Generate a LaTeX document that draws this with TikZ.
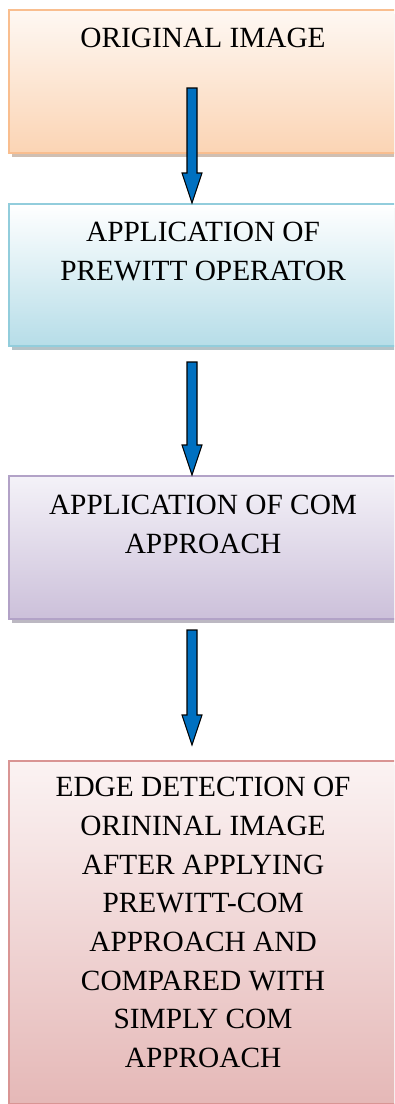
\documentclass[tikz,border=0pt]{standalone}
\usepackage{fontspec}
\setmainfont{Liberation Serif}
\usetikzlibrary{calc,shadows}

\definecolor{peachline}{HTML}{F9BE8F}
\definecolor{peachtop}{HTML}{FEF8F3}
\definecolor{peachbot}{HTML}{FBD4B4}
\definecolor{blueline}{HTML}{92CDDC}
\definecolor{bluetop}{HTML}{FFFFFF}
\definecolor{bluebot}{HTML}{B6DDE8}
\definecolor{lilacline}{HTML}{B2A2C7}
\definecolor{lilactop}{HTML}{F4F2F8}
\definecolor{lilacbot}{HTML}{CCC0DA}
\definecolor{roseline}{HTML}{D99594}
\definecolor{rosetop}{HTML}{FBF3F3}
\definecolor{rosebot}{HTML}{E5B8B7}
\definecolor{arrowblue}{HTML}{0070C0}

% fat down arrow from a start point to the top of the next box
\newcommand\blockarrow[2]{%
  \draw [arrowbody] let \p1=(#1), \p2=(#2) in
    (\x1-3.75pt,\y1) -- (\x1+3.75pt,\y1) -- (\x1+3.75pt,\y2+22.5pt)
    -- (\x1+7.5pt,\y2+22.5pt) -- (\x1,\y2) -- (\x1-7.5pt,\y2+22.5pt)
    -- (\x1-3.75pt,\y2+22.5pt) -- cycle;}

\begin{document}
\begin{tikzpicture}[x=0.75pt,y=-0.75pt,
    stage/.style n args={3}{rectangle, draw=#1, top color=#2, bottom color=#3,
      line width=1.6pt, minimum width=292.5pt, anchor=north west,
      drop shadow={shadow xshift=2pt, shadow yshift=-3pt, fill=#1!60!black, opacity=.45}},
    caption/.style={anchor=north, inner sep=0pt, align=center,
      font=\fontsize{22}{29}\selectfont},
    arrowbody/.style={draw=black, line width=0.8pt, fill=arrowblue, line join=miter}]
    \clip (0,0) rectangle (394,1104);

    % the four stages
    \node (b1) [stage={peachline}{peachtop}{peachbot}, minimum height=107.25pt] at (8,9) {};
    \node (b2) [stage={blueline}{bluetop}{bluebot}, minimum height=106.5pt] at (8,203) {};
    \node (b3) [stage={lilacline}{lilactop}{lilacbot}, minimum height=107.25pt] at (8,475) {};
    \node (b4) [stage={roseline}{rosetop}{rosebot}, minimum height=257.25pt] at (8,760) {};

    \node (t1) [caption] at ($(b1.north)+(-1,19)$) {ORIGINAL IMAGE};
    \node (t2) [caption] at ($(b2.north)+(-1,19)$) {APPLICATION OF\\PREWITT OPERATOR};
    \node (t3) [caption] at ($(b3.north)+(-1,20)$) {APPLICATION OF COM\\APPROACH};
    \node (t4) [caption] at ($(b4.north)+(-1,17)$) {EDGE DETECTION OF\\ORININAL IMAGE\\AFTER APPLYING\\PREWITT-COM\\APPROACH AND\\COMPARED WITH\\SIMPLY COM\\APPROACH};

    % arrows between the stages
    \coordinate (a1) at (192,88);
    \coordinate (a2) at (192,362);
    \coordinate (a3) at (192,630);
    \coordinate (e3) at ($(b4.north)+(0,-15)$);
    \blockarrow{a1}{b2.north}
    \blockarrow{a2}{b3.north}
    \blockarrow{a3}{e3}
  \end{tikzpicture}
\end{document}
